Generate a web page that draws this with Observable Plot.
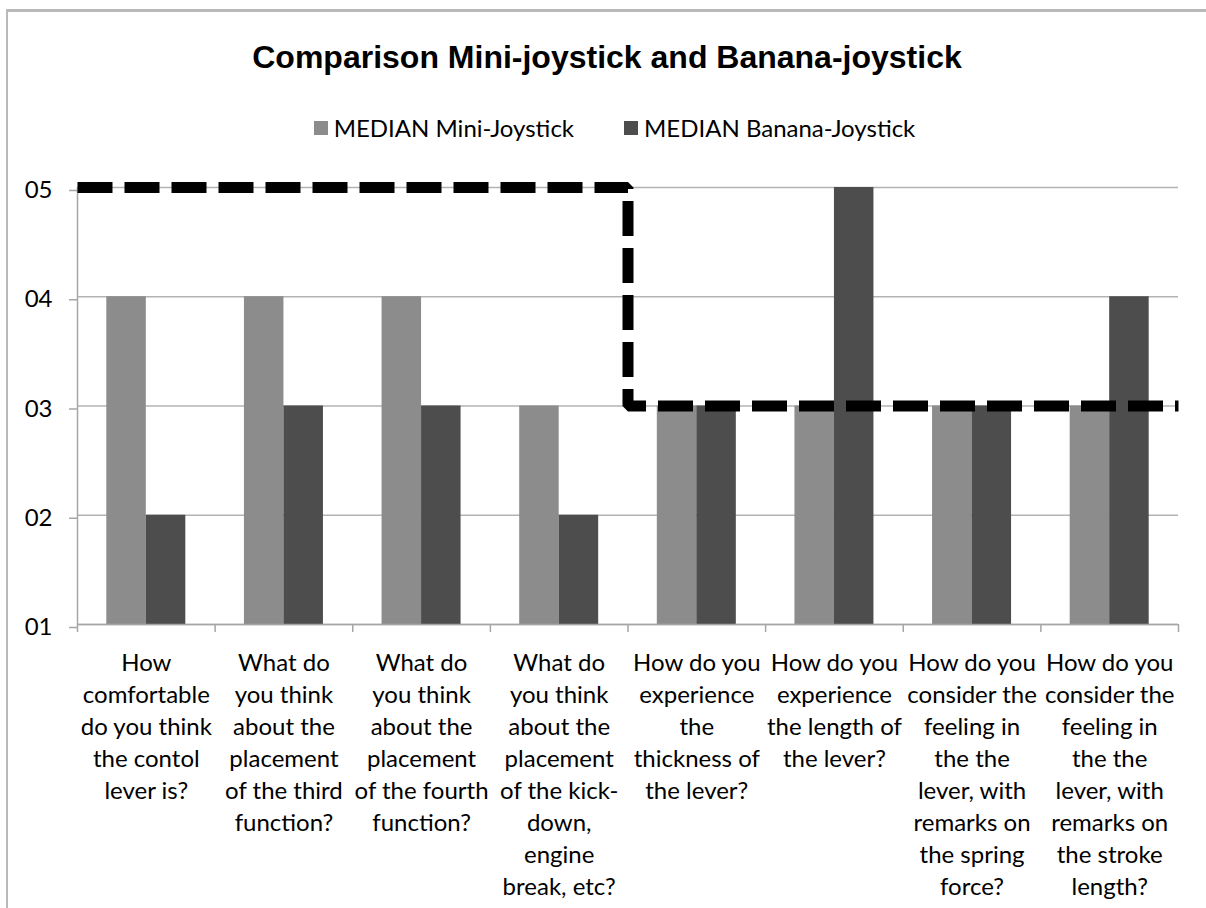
<!DOCTYPE html>
<html>
<head>
<meta charset="utf-8">
<script src="https://cdn.jsdelivr.net/npm/d3@7"></script>
<script src="https://cdn.jsdelivr.net/npm/@observablehq/plot@0.6"></script>
<style>
  html, body { margin: 0; padding: 0; background: #fff; }
  #wrap { position: relative; width: 1206px; height: 908px; overflow: hidden; background: #fff; }
  #frame { position: absolute; left: 6px; top: 9px; width: 1300px; height: 1000px;
           border-top: 3px solid #b9b9b9; border-left: 2px solid #b9b9b9; box-sizing: border-box; }
  #title { position: absolute; left: 0; top: 41px; width: 1214px; text-align: center;
           font: bold 32px/32px "Liberation Sans", Arial, sans-serif; color: #000; white-space: nowrap; }
  #legend { position: absolute; left: 0; top: 116px; width: 1229px; display: flex; justify-content: center;
            font: 24px/24px Lato, sans-serif; color: #000; white-space: nowrap; }
  .item { display: flex; align-items: center; }
  .sw { width: 14px; height: 14px; margin-right: 6px; }
  .gap { width: 50px; }
  #chart { position: absolute; left: 0; top: 150px; }
  #chart svg { overflow: visible; }
</style>
</head>
<body>
<div id="wrap">
  <div id="frame"></div>
  <div id="title"></div>
  <div id="legend"></div>
  <div id="chart"></div>
</div>
<script>
const chartTitle = "Comparison Mini-joystick and Banana-joystick";
const categories = [
  "How\ncomfortable\ndo you think\nthe contol\nlever is?",
  "What do\nyou think\nabout the\nplacement\nof the third\nfunction?",
  "What do\nyou think\nabout the\nplacement\nof the fourth\nfunction?",
  "What do\nyou think\nabout the\nplacement\nof the kick-\ndown,\nengine\nbreak, etc?",
  "How do you\nexperience\nthe\nthickness of\nthe lever?",
  "How do you\nexperience\nthe length of\nthe lever?",
  "How do you\nconsider the\nfeeling in\nthe the\nlever, with\nremarks on\nthe spring\nforce?",
  "How do you\nconsider the\nfeeling in\nthe the\nlever, with\nremarks on\nthe stroke\nlength?"
];
const miniMedian = [4, 4, 4, 3, 3, 3, 3, 3];
const bananaMedian = [2, 3, 3, 2, 3, 5, 3, 4];
const targetLevel = [5, 5, 5, 5, 3, 3, 3, 3];
const seriesNames = ["MEDIAN Mini-Joystick", "MEDIAN Banana-Joystick"];
const seriesColors = ["#8c8c8c", "#4d4d4d"];
const yTicks = [1, 2, 3, 4, 5];
const yTickLabels = ["01", "02", "03", "04", "05"];

document.getElementById("title").textContent = chartTitle;
const legend = document.getElementById("legend");
seriesNames.forEach((name, k) => {
  if (k > 0) { const g = document.createElement("div"); g.className = "gap"; legend.appendChild(g); }
  const it = document.createElement("div"); it.className = "item";
  const sw = document.createElement("div"); sw.className = "sw"; sw.style.background = seriesColors[k];
  const tx = document.createElement("span"); tx.textContent = name;
  it.appendChild(sw); it.appendChild(tx); legend.appendChild(it);
});

const rows = categories.map((label, i) => ({i, label, mini: miniMedian[i], banana: bananaMedian[i]}));
const stepPts = targetLevel.map((v, i) => ({x: i, y: v}));
stepPts.push({x: targetLevel.length, y: targetLevel[targetLevel.length - 1]});
const BAR = 0.287; // bar width as a fraction of a category slot
const gray = "#a6a6a6";

const chart = Plot.plot({
  width: 1206,
  height: 758,
  marginLeft: 77,
  marginRight: 28,
  marginTop: 37,
  marginBottom: 284,
  style: {fontFamily: "Lato, sans-serif", background: "transparent", overflow: "visible"},
  x: {domain: [0, categories.length], label: null},
  y: {domain: [1, 5], label: null},
  marks: [
    Plot.gridY(yTicks, {stroke: "#b3b3b3", strokeOpacity: 1, strokeWidth: 1.3}),
    Plot.rectY(rows, {x1: d => d.i + 0.5 - BAR, x2: d => d.i + 0.5, y1: 1, y2: "mini", fill: seriesColors[0]}),
    Plot.rectY(rows, {x1: d => d.i + 0.5, x2: d => d.i + 0.5 + BAR, y1: 1, y2: "banana", fill: seriesColors[1]}),
    Plot.ruleX([0], {stroke: gray, strokeWidth: 1.5}),
    Plot.ruleY([1], {stroke: gray, strokeWidth: 1.5}),
    Plot.axisY({ticks: yTicks, tickFormat: d => yTickLabels[yTicks.indexOf(d)], tickSize: 8, tickPadding: 17,
      fontSize: 24, fill: "#000", stroke: gray, strokeWidth: 1.5, dy: 3, label: null}),
    Plot.axisX({ticks: d3.range(categories.length + 1), tickFormat: () => "", tickSize: 8,
      stroke: gray, strokeWidth: 1.5, label: null}),
    Plot.text(rows, {x: d => d.i + 0.5, frameAnchor: "bottom", text: "label", lineAnchor: "top", dy: 24,
      fontSize: 24, lineHeight: 1.333, fill: "#000", fontFamily: "Lato, sans-serif"}),
    Plot.line(stepPts, {x: "x", y: "y", curve: "step-after", stroke: "#000", strokeWidth: 11,
      strokeDasharray: "35,12", strokeLinejoin: "miter", strokeLinecap: "butt"})
  ]
});
document.getElementById("chart").appendChild(chart);
</script>
</body>
</html>
